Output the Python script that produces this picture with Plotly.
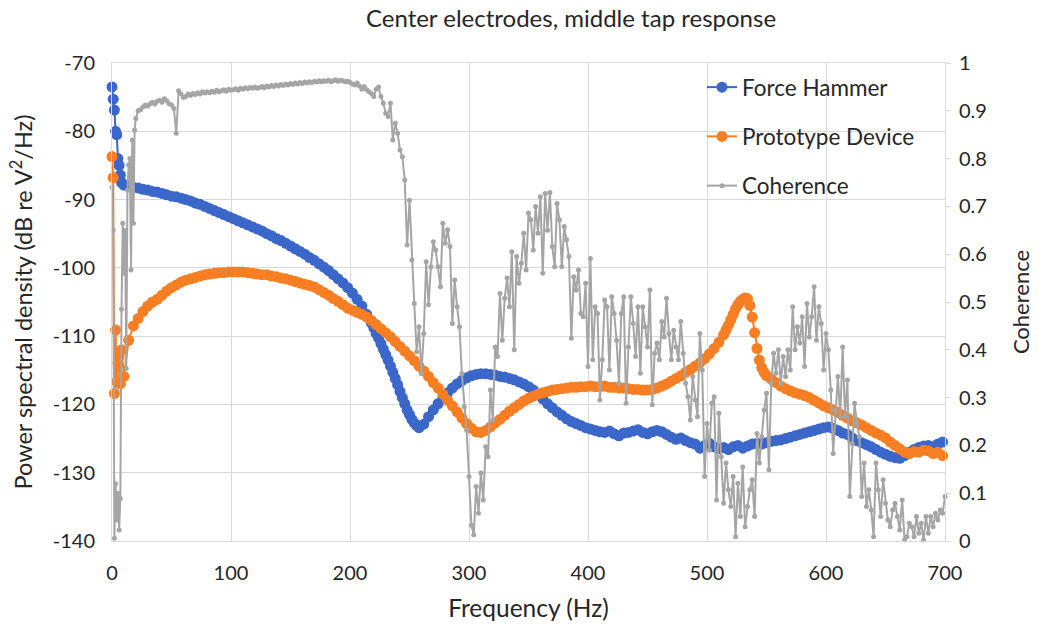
import plotly.graph_objects as go

# ---------------- data ----------------
# PSD frequency grid (Hz)
psd_freq = [0, 1, 2, 3, 4, 5, 6, 7, 8] + list(range(10, 699, 4))

force_hammer = [
    -73.5, -75.3, -76.9, -80.0, -80.5, -84.0, -85.0, -86.4, -87.5,
    -87.9, -88.0, -88.2, -88.3, -88.5, -88.6, -88.8, -88.9, -89.1, -89.3,   # 10-46
    -89.5, -89.6, -89.8, -90.0, -90.2, -90.5, -90.7, -91.0, -91.3, -91.6,   # 50-86
    -91.9, -92.2, -92.5, -92.8, -93.1, -93.4, -93.7, -94.0, -94.3, -94.6,   # 90-126
    -95.0, -95.3, -95.7, -96.0, -96.4, -96.8, -97.2, -97.6, -98.0, -98.5,   # 130-166
    -98.9, -99.4, -99.9, -100.4, -101.0, -101.6, -102.2, -102.9, -103.7, -104.6,  # 170-206
    -105.6, -106.8, -108.1, -109.6, -111.1, -112.7, -114.4, -116.2, -118.1, -119.9,  # 210-246
    -121.5, -122.7, -123.4, -122.9, -121.8, -120.8, -119.9, -119.1, -118.3, -117.6,  # 250-286
    -117.0, -116.5, -116.1, -115.8, -115.6, -115.5, -115.5, -115.6, -115.7, -115.9,  # 290-326
    -116.0, -116.2, -116.4, -116.7, -117.0, -117.4, -117.9, -118.5, -119.2, -119.9,  # 330-366
    -120.5, -121.1, -121.6, -122.1, -122.5, -122.8, -123.1, -123.4, -123.6, -123.8,  # 370-406
    -124.0, -124.1, -123.9, -124.3, -124.6, -124.2, -124.1, -123.9, -123.7, -124.1,  # 410-446
    -124.3, -124.0, -123.8, -124.0, -124.4, -124.8, -125.1, -124.9, -125.3, -125.6,  # 450-486
    -125.8, -126.4, -126.0, -125.7, -126.2, -126.5, -126.3, -126.6, -126.2, -126.0,  # 490-526
    -126.4, -126.1, -125.8, -125.7, -125.8, -125.6, -125.4, -125.3, -125.2, -125.0,  # 530-566
    -124.8, -124.6, -124.4, -124.2, -124.0, -123.8, -123.6, -123.4, -123.3, -123.5,  # 570-606
    -123.8, -124.2, -124.4, -124.9, -125.3, -125.6, -125.9, -126.2, -126.6, -127.0,  # 610-646
    -127.3, -127.6, -127.8, -127.9, -127.5, -127.0, -126.6, -126.3, -126.1, -126.0,  # 650-686
    -126.2, -125.8, -125.5,                                                          # 690-698
]
# extra readings where the Force Hammer curve falls steeply
force_hammer_extra_freq = [220, 224, 228, 232, 236, 240, 244, 248, 252, 256]
force_hammer_extra = [-108.8, -110.3, -111.9, -113.5, -115.3, -117.1, -119.0, -120.8, -122.2, -123.1]

prototype_device = [
    -83.7, -86.8, -118.4, -109.1, -116.7, -114.0, -113.0, -117.0, -112.0,
    -115.9, -110.6, -108.5, -107.4, -106.4, -105.6, -105.0, -104.6, -104.0, -103.4,  # 10-46
    -102.9, -102.5, -102.1, -101.8, -101.6, -101.4, -101.2, -101.0, -100.9, -100.8,  # 50-86
    -100.7, -100.7, -100.6, -100.6, -100.6, -100.6, -100.7, -100.8, -100.9, -101.0,  # 90-126
    -101.0, -101.2, -101.3, -101.5, -101.6, -101.8, -102.0, -102.2, -102.4, -102.6,  # 130-166
    -102.8, -103.2, -103.6, -104.0, -104.5, -104.9, -105.4, -105.9, -106.2, -106.5,  # 170-206
    -106.8, -107.2, -107.7, -108.3, -108.9, -109.5, -110.1, -110.8, -111.5, -112.2,  # 210-246
    -112.9, -113.6, -114.4, -115.1, -115.9, -116.8, -117.6, -118.5, -119.4, -120.2,  # 250-286
    -121.1, -122.0, -122.8, -123.5, -124.0, -124.1, -123.8, -123.3, -122.7, -122.2,  # 290-326
    -121.6, -121.0, -120.5, -120.0, -119.5, -119.1, -118.8, -118.5, -118.3, -118.1,  # 330-366
    -117.9, -117.8, -117.7, -117.6, -117.5, -117.5, -117.4, -117.4, -117.3, -117.4,  # 370-406
    -117.4, -117.3, -117.5, -117.5, -117.6, -117.6, -117.7, -117.8, -117.8, -117.9,  # 410-446
    -117.9, -117.8, -117.6, -117.3, -117.0, -116.6, -116.2, -115.8, -115.3, -114.9,  # 450-486
    -114.4, -113.9, -113.3, -112.6, -111.8, -110.9, -109.8, -108.4, -106.8, -105.4,  # 490-526
    -104.6, -104.5, -107.2, -111.8, -114.6, -115.8, -116.3, -116.8, -117.3, -117.7,  # 530-566
    -118.0, -118.3, -118.5, -118.7, -119.0, -119.4, -119.8, -120.2, -120.5, -120.8,  # 570-606
    -121.2, -121.6, -122.0, -122.4, -122.7, -123.0, -123.4, -123.8, -124.2, -124.5,  # 610-646
    -124.9, -125.5, -126.0, -126.5, -127.0, -127.2, -126.9, -127.0, -126.7, -126.8,  # 650-686
    -127.2, -127.0, -127.5,                                                          # 690-698
]
# extra readings around the resonance peak of the Prototype Device
prototype_device_extra_freq = [516, 520, 524, 528, 532, 536, 540, 544, 548]
prototype_device_extra = [-109.1, -107.6, -106.0, -104.9, -104.4, -105.5, -109.5, -113.5, -115.3]

# Coherence frequency grid (Hz)
coh_freq = list(range(0, 20)) + list(range(20, 701, 2))

coherence = [
    0.740, 0.650, 0.006, 0.120, 0.044, 0.100, 0.023, 0.089, 0.485, 0.665,   # 0-9
    0.560, 0.650, 0.361, 0.734, 0.787, 0.800, 0.567, 0.839, 0.665, 0.860,   # 10-19
    0.884, 0.900, 0.902, 0.908, 0.912, 0.910, 0.915, 0.918, 0.914, 0.920,   # 20-38
    0.922, 0.918, 0.925, 0.921, 0.915, 0.912, 0.905, 0.853, 0.942, 0.935,   # 40-58
    0.928, 0.930, 0.935, 0.932, 0.936, 0.934, 0.938, 0.935, 0.940, 0.937,   # 60-78
    0.940, 0.938, 0.941, 0.939, 0.943, 0.940, 0.942, 0.944, 0.941, 0.945,   # 80-98
    0.943, 0.944, 0.946, 0.943, 0.947, 0.945, 0.948, 0.946, 0.949, 0.947,   # 100-118
    0.950, 0.947, 0.949, 0.951, 0.948, 0.952, 0.950, 0.953, 0.951, 0.954,   # 120-138
    0.952, 0.955, 0.953, 0.956, 0.954, 0.957, 0.955, 0.958, 0.956, 0.959,   # 140-158
    0.957, 0.960, 0.958, 0.961, 0.959, 0.962, 0.960, 0.963, 0.961, 0.963,   # 160-178
    0.962, 0.964, 0.961, 0.963, 0.965, 0.962, 0.964, 0.963, 0.961, 0.962,   # 180-198
    0.959, 0.956, 0.954, 0.958, 0.952, 0.945, 0.951, 0.944, 0.940, 0.936,   # 200-218
    0.930, 0.945, 0.950, 0.930, 0.916, 0.895, 0.888, 0.916, 0.839, 0.874,   # 220-238
    0.853, 0.818, 0.804, 0.755, 0.619, 0.713, 0.588, 0.497, 0.396, 0.448,   # 240-258
    0.350, 0.434, 0.584, 0.494, 0.574, 0.626, 0.609, 0.574, 0.532, 0.665,   # 260-278
    0.623, 0.651, 0.616, 0.455, 0.546, 0.490, 0.448, 0.350, 0.281, 0.232,   # 280-298
    0.135, 0.033, 0.013, 0.114, 0.058, 0.142, 0.086, 0.197, 0.176, 0.316,   # 300-318
    0.253, 0.406, 0.386, 0.518, 0.420, 0.508, 0.550, 0.490, 0.605, 0.400,   # 320-338
    0.595, 0.539, 0.581, 0.644, 0.567, 0.686, 0.672, 0.609, 0.700, 0.644,   # 340-358
    0.720, 0.560, 0.727, 0.650, 0.729, 0.616, 0.574, 0.706, 0.672, 0.574,   # 360-378
    0.658, 0.630, 0.595, 0.424, 0.553, 0.525, 0.567, 0.476, 0.469, 0.539,   # 380-398
    0.365, 0.591, 0.379, 0.490, 0.476, 0.295, 0.379, 0.504, 0.490, 0.358,   # 400-418
    0.511, 0.476, 0.420, 0.330, 0.476, 0.511, 0.288, 0.406, 0.511, 0.455,   # 420-438
    0.386, 0.490, 0.351, 0.490, 0.448, 0.406, 0.525, 0.285, 0.393, 0.414,   # 440-458
    0.379, 0.459, 0.427, 0.508, 0.434, 0.379, 0.441, 0.406, 0.379, 0.459,   # 460-478
    0.393, 0.330, 0.302, 0.253, 0.344, 0.295, 0.260, 0.434, 0.358, 0.135,   # 480-498
    0.246, 0.190, 0.288, 0.302, 0.086, 0.267, 0.176, 0.079, 0.163, 0.107,   # 500-518
    0.072, 0.135, 0.009, 0.121, 0.051, 0.155, 0.030, 0.072, 0.107, 0.128,   # 520-538
    0.051, 0.225, 0.163, 0.218, 0.274, 0.309, 0.149, 0.330, 0.393, 0.351,   # 540-558
    0.400, 0.330, 0.386, 0.344, 0.400, 0.358, 0.490, 0.400, 0.448, 0.414,   # 560-578
    0.469, 0.365, 0.497, 0.427, 0.469, 0.532, 0.420, 0.490, 0.455, 0.358,   # 580-598
    0.434, 0.400, 0.316, 0.183, 0.274, 0.344, 0.260, 0.406, 0.260, 0.337,   # 600-618
    0.093, 0.204, 0.288, 0.246, 0.218, 0.093, 0.163, 0.072, 0.107, 0.065,   # 620-638
    0.009, 0.163, 0.107, 0.051, 0.128, 0.079, 0.044, 0.030, 0.065, 0.079,   # 640-658
    0.051, 0.023, 0.086, 0.002, 0.009, 0.037, 0.030, 0.009, 0.051, 0.016,   # 660-678
    0.037, 0.002, 0.051, 0.016, 0.051, 0.030, 0.058, 0.044, 0.065, 0.058,   # 680-698
    0.093,                                                                   # 700
]

left_ticks = [-140, -130, -120, -110, -100, -90, -80, -70]
left_tick_text = ["-140", "-130", "-120", "-110", "-100", "-90", "-80", "-70"]
right_ticks = [0, 0.1, 0.2, 0.3, 0.4, 0.5, 0.6, 0.7, 0.8, 0.9, 1]
right_tick_text = ["0", "0.1", "0.2", "0.3", "0.4", "0.5", "0.6", "0.7", "0.8", "0.9", "1"]
x_ticks = [0, 100, 200, 300, 400, 500, 600, 700]


def merged(f_main, v_main, f_extra, v_extra):
    pairs = sorted(zip(list(f_main) + list(f_extra), list(v_main) + list(v_extra)))
    return [p[0] for p in pairs], [p[1] for p in pairs]


fh_x, fh_y = merged(psd_freq, force_hammer, force_hammer_extra_freq, force_hammer_extra)
pd_x, pd_y = merged(psd_freq, prototype_device, prototype_device_extra_freq, prototype_device_extra)

# ---------------- styling ----------------
FONT = "Lato"
BLUE = "#3A67C9"
ORANGE = "#F77E22"
GRAY = "#A5A5A5"
GRID = "#D9D9D9"
TXT = "#262626"

W, H = 1039, 629
L, R, T, B = 112, 945, 63, 541
PW, PH = R - L, B - T

fig = go.Figure()
fig.add_trace(go.Scatter(
    x=fh_x, y=fh_y, name="Force Hammer", mode="lines+markers",
    line=dict(color=BLUE, width=2), marker=dict(color=BLUE, size=11, line=dict(width=0)),
    cliponaxis=False, legendgroup="a"))
fig.add_trace(go.Scatter(
    x=pd_x, y=pd_y, name="Prototype Device", mode="lines+markers",
    line=dict(color=ORANGE, width=2), marker=dict(color=ORANGE, size=11, line=dict(width=0)),
    cliponaxis=False, legendgroup="b"))
fig.add_trace(go.Scatter(
    x=coh_freq, y=coherence, name="Coherence", mode="lines+markers", yaxis="y2",
    line=dict(color=GRAY, width=2), marker=dict(color=GRAY, size=5, line=dict(width=0)),
    cliponaxis=False, legendgroup="c"))

fig.update_layout(
    width=W, height=H,
    margin=dict(l=L, r=W - R, t=T, b=H - B, pad=0, autoexpand=False),
    paper_bgcolor="white", plot_bgcolor="white",
    font=dict(family=FONT, color=TXT, size=19),
    showlegend=True,
    title=dict(text="Center electrodes, middle tap response", x=571 / W, xref="container",
               xanchor="center", y=1 - 19 / H, yanchor="middle", yref="container",
               font=dict(family=FONT, size=24, color=TXT)),
    legend=dict(x=(702 - L) / PW, y=(B - 66) / PH, xref="paper", yref="paper",
                xanchor="left", yanchor="top", bgcolor="rgba(0,0,0,0)",
                font=dict(family=FONT, size=22.5, color=TXT),
                traceorder="grouped", tracegroupgap=17, itemwidth=30),
    xaxis=dict(range=[0, 700], tickvals=x_ticks, showgrid=True, gridcolor=GRID, gridwidth=1,
               zeroline=False, showline=True, linecolor=GRID, mirror=True, ticks="",
               tickfont=dict(size=20), ticklabelstandoff=14,
               title=dict(text="Frequency (Hz)", font=dict(size=24.5), standoff=16)),
    yaxis=dict(range=[-140, -70], tickvals=left_ticks, ticktext=left_tick_text,
               showgrid=True, gridcolor=GRID, gridwidth=1,
               zeroline=False, showline=True, linecolor=GRID, mirror=True, ticks="",
               tickfont=dict(size=20), ticklabelstandoff=12,
               title=dict(text="Power spectral density (dB re V<sup>2</sup>/Hz)",
                          font=dict(size=23.5), standoff=13)),
    yaxis2=dict(range=[0, 1], tickvals=right_ticks, ticktext=right_tick_text, overlaying="y",
                side="right", showgrid=False, zeroline=False, showline=False,
                ticks="outside", ticklen=5, tickcolor=GRID,
                tickfont=dict(size=20), ticklabelstandoff=4,
                title=dict(text="Coherence", font=dict(size=22), standoff=27)),
)

fig.write_html("out.html")
